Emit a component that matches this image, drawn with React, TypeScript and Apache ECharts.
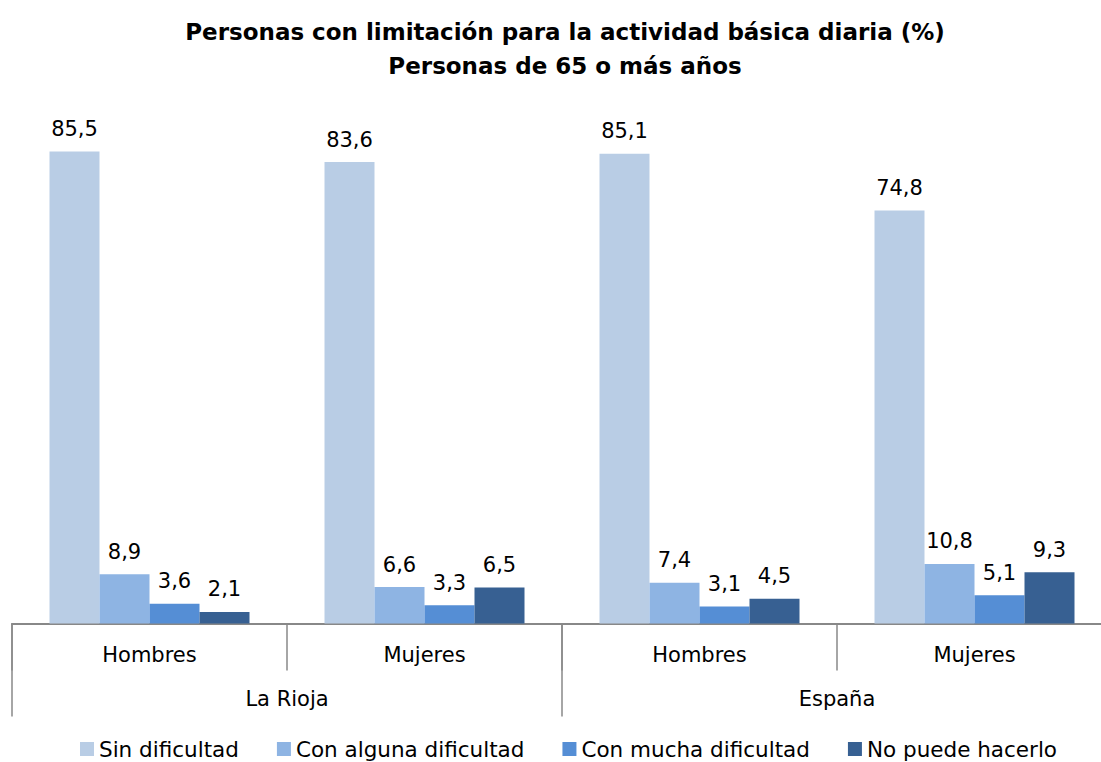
import React, { useEffect, useRef } from "react";
import * as echarts from "echarts";

const subCategories = ["Hombres", "Mujeres", "Hombres", "Mujeres"];
const regions = ["La Rioja", "España"];
const seriesNames = ["Sin dificultad", "Con alguna dificultad", "Con mucha dificultad", "No puede hacerlo"];
const sinDificultad = [85.5, 83.6, 85.1, 74.8];
const conAlguna = [8.9, 6.6, 7.4, 10.8];
const conMucha = [3.6, 3.3, 3.1, 5.1];
const noPuede = [2.1, 6.5, 4.5, 9.3];
const colors = ["#B9CDE5", "#8EB4E3", "#558ED5", "#376092"];

const FONT = "'DejaVu Sans', 'Liberation Sans', Arial, sans-serif";

export default function App() {
  const ref = useRef<HTMLDivElement>(null);
  useEffect(() => {
    if (!ref.current) return;
    const chart = echarts.init(ref.current, undefined, { renderer: "svg" });
    const values = [sinDificultad, conAlguna, conMucha, noPuede];
    chart.setOption({
      animation: false,
      backgroundColor: "#ffffff",
      textStyle: { fontFamily: FONT },
      title: {
        text: "Personas con limitación para la actividad básica diaria (%)\nPersonas de 65 o más años",
        left: 560,
        textAlign: "center",
        top: 10,
        textStyle: { fontSize: 23, fontWeight: "bold", color: "#000", lineHeight: 34, fontFamily: FONT },
      },
      legend: {
        bottom: -3,
        left: 75,
        icon: "rect",
        itemWidth: 14,
        itemHeight: 14,
        itemGap: 38,
        itemStyle: { borderWidth: 0 },
        textStyle: { fontSize: 21.5, color: "#000", fontFamily: FONT },
        data: seriesNames,
      },
      grid: { left: 12, width: 1100, top: 71.5, bottom: 138.5, containLabel: false, outerBoundsMode: "none" },
      xAxis: [
        {
          type: "category",
          data: subCategories,
          position: "bottom",
          axisLine: { show: true, lineStyle: { color: "#888888", width: 2 } },
          axisTick: { show: true, length: 47, interval: 0, lineStyle: { color: "#888888", width: 1.5 } },
          axisLabel: { interval: 0, margin: 21, fontSize: 21, color: "#000", fontFamily: FONT },
        },
        {
          type: "category",
          data: regions,
          position: "bottom",
          axisLine: { show: false },
          axisTick: { show: true, length: 93, interval: 0, lineStyle: { color: "#888888", width: 1.5 } },
          axisLabel: { interval: 0, margin: 65, fontSize: 21, color: "#000", fontFamily: FONT },
        },
      ],
      yAxis: { type: "value", min: 0, max: 100, show: false, splitLine: { show: false } },
      series: seriesNames.map((name, i) => ({
        name,
        type: "bar",
        xAxisIndex: 0,
        data: values[i],
        barWidth: 50,
        barGap: "0%",
        itemStyle: { color: colors[i] },
        label: {
          show: true,
          position: "top",
          distance: 12,
          fontSize: 21,
          color: "#000",
          fontFamily: FONT,
          formatter: (p: any) => Number(p.value).toFixed(1).replace(".", ","),
        },
      })),
    });
    return () => chart.dispose();
  }, []);
  return <div ref={ref} style={{ position: "absolute", left: 0, top: 0, width: 1101, height: 762 }} />;
}
